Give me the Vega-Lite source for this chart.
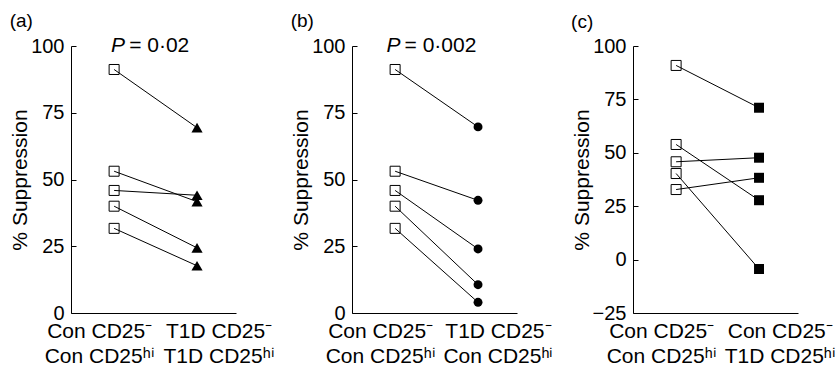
{
  "$schema": "https://vega.github.io/schema/vega-lite/v6.json",
  "padding": {"left": 9, "top": 12, "right": 0, "bottom": 0},
  "datasets": {
    "pts": [
      {"panel": "a", "pair": 1, "grp": 0, "v": 91.2},
      {"panel": "a", "pair": 1, "grp": 1, "v": 69.4},
      {"panel": "a", "pair": 2, "grp": 0, "v": 53.1},
      {"panel": "a", "pair": 2, "grp": 1, "v": 41.7},
      {"panel": "a", "pair": 3, "grp": 0, "v": 45.9},
      {"panel": "a", "pair": 3, "grp": 1, "v": 44.1},
      {"panel": "a", "pair": 4, "grp": 0, "v": 40.0},
      {"panel": "a", "pair": 4, "grp": 1, "v": 24.4},
      {"panel": "a", "pair": 5, "grp": 0, "v": 31.7},
      {"panel": "a", "pair": 5, "grp": 1, "v": 17.7},
      {"panel": "b", "pair": 1, "grp": 0, "v": 91.2},
      {"panel": "b", "pair": 1, "grp": 1, "v": 69.7},
      {"panel": "b", "pair": 2, "grp": 0, "v": 53.1},
      {"panel": "b", "pair": 2, "grp": 1, "v": 42.2},
      {"panel": "b", "pair": 3, "grp": 0, "v": 45.9},
      {"panel": "b", "pair": 3, "grp": 1, "v": 24.0},
      {"panel": "b", "pair": 4, "grp": 0, "v": 40.0},
      {"panel": "b", "pair": 4, "grp": 1, "v": 10.6},
      {"panel": "b", "pair": 5, "grp": 0, "v": 31.7},
      {"panel": "b", "pair": 5, "grp": 1, "v": 4.0},
      {"panel": "c", "pair": 1, "grp": 0, "v": 90.9},
      {"panel": "c", "pair": 1, "grp": 1, "v": 71.1},
      {"panel": "c", "pair": 2, "grp": 0, "v": 53.9},
      {"panel": "c", "pair": 2, "grp": 1, "v": 27.8},
      {"panel": "c", "pair": 3, "grp": 0, "v": 45.8},
      {"panel": "c", "pair": 3, "grp": 1, "v": 47.7},
      {"panel": "c", "pair": 4, "grp": 0, "v": 40.3},
      {"panel": "c", "pair": 4, "grp": 1, "v": -4.4},
      {"panel": "c", "pair": 5, "grp": 0, "v": 32.8},
      {"panel": "c", "pair": 5, "grp": 1, "v": 38.3}
    ],
    "ptext": [
      {"panel": "a", "grp": 0.157, "v": 100, "p": "P", "rest": "= 0·02"},
      {"panel": "b", "grp": 0.09, "v": 100, "p": "P", "rest": "= 0·002"}
    ]
  },
  "bounds": "flush",
  "spacing": 116,
  "hconcat": [
    {
      "width": 165, "height": 267,
      "title": {"text": "(a)"},
      "encoding": {
        "x": {"field": "grp", "type": "quantitative",
              "scale": {"domain": [-0.52, 1.47], "nice": false, "zero": false},
              "axis": {"values": [-0.18, 1.26], "labelExpr": "datum.value < 0.5 ? ['Con CD25⁻', 'Con CD25ʰⁱ'] : ['T1D CD25⁻', 'T1D CD25ʰⁱ']",
                       "ticks": false, "labelPadding": 7, "labelFontSize": 21, "labelLineHeight": 25, "labelFlush": false, "labelOverlap": false, "labelAlign": "center", "title": null}},
        "y": {"field": "v", "type": "quantitative",
              "scale": {"domain": [0, 100], "nice": false, "zero": false},
              "axis": {"values": [0, 25, 50, 75, 100], "tickSize": -5, "labelPadding": 12, "labelFontSize": 20, "title": "% Suppression", "titleFontSize": 21, "titlePadding": 0}}
      },
      "layer": [
        {"data": {"name": "pts"}, "transform": [{"filter": "datum.panel == 'a'"}],
         "mark": {"type": "line", "color": "black", "strokeWidth": 1},
         "encoding": {"detail": {"field": "pair"}}},
        {"data": {"name": "pts"}, "transform": [{"filter": "datum.panel == 'a' && datum.grp == 0"}],
         "mark": {"type": "point", "shape": "square", "filled": false, "stroke": "black", "strokeWidth": 1, "size": 100, "opacity": 1}},
        {"data": {"name": "pts"}, "transform": [{"filter": "datum.panel == 'a' && datum.grp == 1"}],
         "mark": {"type": "point", "shape": "triangle-up", "filled": true, "color": "black", "size": 125, "opacity": 1}},
        {"data": {"name": "ptext"}, "transform": [{"filter": "datum.panel == 'a'"}],
         "mark": {"type": "text", "fontStyle": "italic", "fontSize": 21, "align": "right", "baseline": "middle", "dx": -2, "color": "black"},
         "encoding": {"text": {"field": "p"}}},
        {"data": {"name": "ptext"}, "transform": [{"filter": "datum.panel == 'a'"}],
         "mark": {"type": "text", "fontSize": 21, "align": "left", "baseline": "middle", "dx": 2, "color": "black"},
         "encoding": {"text": {"field": "rest"}}}
      ]
    },
    {
      "width": 165, "height": 267,
      "title": {"text": "(b)"},
      "encoding": {
        "x": {"field": "grp", "type": "quantitative",
              "scale": {"domain": [-0.52, 1.47], "nice": false, "zero": false},
              "axis": {"values": [-0.18, 1.24], "labelExpr": "datum.value < 0.5 ? ['Con CD25⁻', 'Con CD25ʰⁱ'] : ['T1D CD25⁻', 'Con CD25ʰⁱ']",
                       "ticks": false, "labelPadding": 7, "labelFontSize": 21, "labelLineHeight": 25, "labelFlush": false, "labelOverlap": false, "labelAlign": "center", "title": null}},
        "y": {"field": "v", "type": "quantitative",
              "scale": {"domain": [0, 100], "nice": false, "zero": false},
              "axis": {"values": [0, 25, 50, 75, 100], "tickSize": -5, "labelPadding": 12, "labelFontSize": 20, "title": "% Suppression", "titleFontSize": 21, "titlePadding": 0}}
      },
      "layer": [
        {"data": {"name": "pts"}, "transform": [{"filter": "datum.panel == 'b'"}],
         "mark": {"type": "line", "color": "black", "strokeWidth": 1},
         "encoding": {"detail": {"field": "pair"}}},
        {"data": {"name": "pts"}, "transform": [{"filter": "datum.panel == 'b' && datum.grp == 0"}],
         "mark": {"type": "point", "shape": "square", "filled": false, "stroke": "black", "strokeWidth": 1, "size": 100, "opacity": 1}},
        {"data": {"name": "pts"}, "transform": [{"filter": "datum.panel == 'b' && datum.grp == 1"}],
         "mark": {"type": "point", "shape": "circle", "filled": true, "color": "black", "size": 80, "opacity": 1}},
        {"data": {"name": "ptext"}, "transform": [{"filter": "datum.panel == 'b'"}],
         "mark": {"type": "text", "fontStyle": "italic", "fontSize": 21, "align": "right", "baseline": "middle", "dx": -2, "color": "black"},
         "encoding": {"text": {"field": "p"}}},
        {"data": {"name": "ptext"}, "transform": [{"filter": "datum.panel == 'b'"}],
         "mark": {"type": "text", "fontSize": 21, "align": "left", "baseline": "middle", "dx": 2, "color": "black"},
         "encoding": {"text": {"field": "rest"}}}
      ]
    },
    {
      "width": 165, "height": 267,
      "title": {"text": "(c)"},
      "encoding": {
        "x": {"field": "grp", "type": "quantitative",
              "scale": {"domain": [-0.52, 1.47], "nice": false, "zero": false},
              "axis": {"values": [-0.18, 1.25], "labelExpr": "datum.value < 0.5 ? ['Con CD25⁻', 'Con CD25ʰⁱ'] : ['Con CD25⁻', 'T1D CD25ʰⁱ']",
                       "ticks": false, "labelPadding": 7, "labelFontSize": 21, "labelLineHeight": 25, "labelFlush": false, "labelOverlap": false, "labelAlign": "center", "title": null}},
        "y": {"field": "v", "type": "quantitative",
              "scale": {"domain": [-25, 100], "nice": false, "zero": false},
              "axis": {"values": [-25, 0, 25, 50, 75, 100], "tickSize": -5, "labelPadding": 12, "labelFontSize": 20, "title": "% Suppression", "titleFontSize": 21, "titlePadding": 0}}
      },
      "layer": [
        {"data": {"name": "pts"}, "transform": [{"filter": "datum.panel == 'c'"}],
         "mark": {"type": "line", "color": "black", "strokeWidth": 1},
         "encoding": {"detail": {"field": "pair"}}},
        {"data": {"name": "pts"}, "transform": [{"filter": "datum.panel == 'c' && datum.grp == 0"}],
         "mark": {"type": "point", "shape": "square", "filled": false, "stroke": "black", "strokeWidth": 1, "size": 100, "opacity": 1}},
        {"data": {"name": "pts"}, "transform": [{"filter": "datum.panel == 'c' && datum.grp == 1"}],
         "mark": {"type": "point", "shape": "square", "filled": true, "color": "black", "size": 100, "opacity": 1}}
      ]
    }
  ],
  "config": {
    "font": "Liberation Sans",
    "view": {"stroke": null},
    "axis": {"grid": false, "domainColor": "black", "domainWidth": 1, "tickColor": "black", "tickWidth": 1, "labelColor": "black", "titleColor": "black", "labelFont": "Liberation Sans", "titleFont": "Liberation Sans", "titleFontWeight": "normal"},
    "title": {"fontWeight": "normal", "fontSize": 19, "color": "black", "anchor": "start", "frame": "bounds", "font": "Liberation Sans"}
  }
}
